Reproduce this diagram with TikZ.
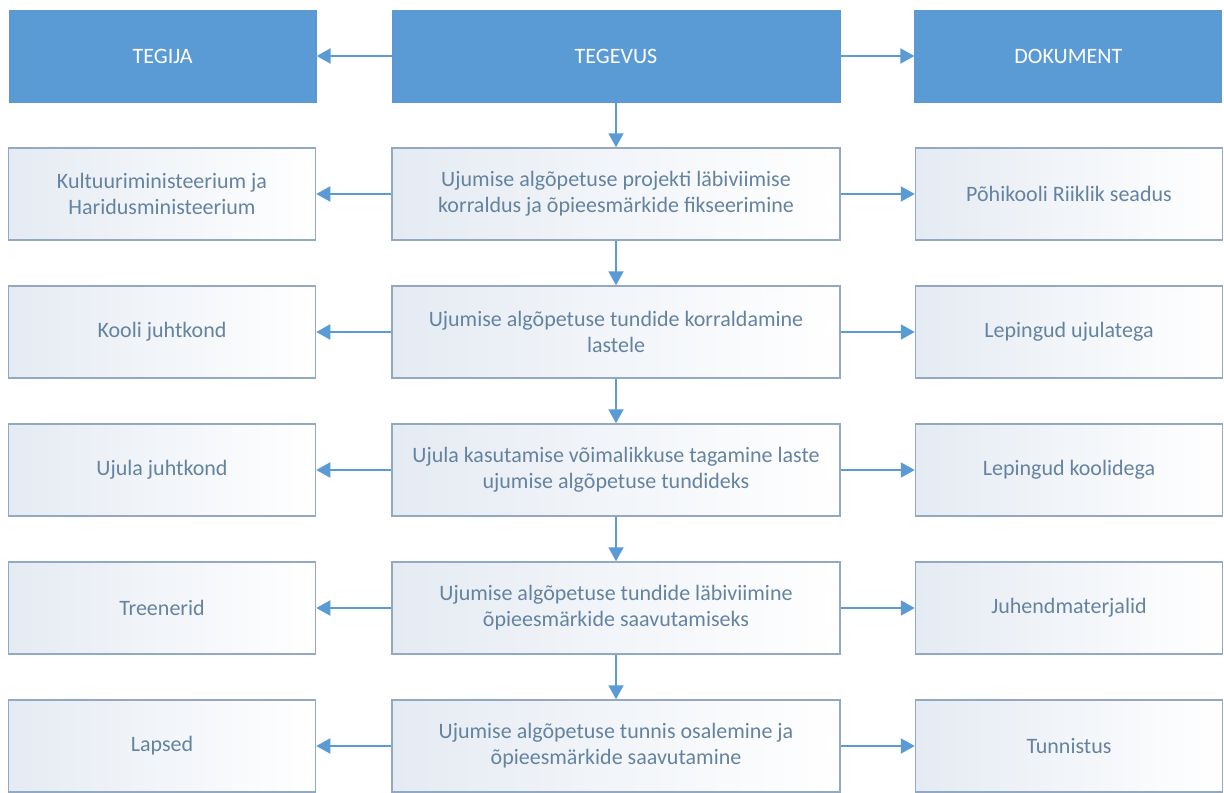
\documentclass[tikz,border=0pt]{standalone}
\usepackage{fontspec}
\setmainfont{Carlito}
\usepackage{tikz}
\usetikzlibrary{positioning}
\usetikzlibrary{arrows.meta}
\definecolor{headblue}{HTML}{5B9BD5}
\definecolor{boxline}{HTML}{93A9C1}
\definecolor{boxtext}{HTML}{6483A1}
\definecolor{boxshade}{HTML}{E5EBF3}
\tikzset{x=0.5pt, y=-0.5pt,
head/.style={ % Blue header boxes
fill=headblue,
draw=headblue!85!gray,
text=white,
minimum height=46pt,
font=\fontsize{11}{13}\selectfont},
box/.style={ % Light boxes with a soft shade
draw=boxline,
line width=0.75pt,
left color=boxshade, right color=white,
text=boxtext,
align=center,
minimum height=46pt,
font=\fontsize{11}{13}\selectfont},
wide/.style={minimum width=224pt}, % Middle column
narrow/.style={minimum width=153.5pt}, % Side columns
every edge/.style={ % Arrows between boxes
draw=headblue,
line width=1pt,
-{Triangle[length=7pt,width=7.5pt]}}}

\begin{document}
\begin{tikzpicture}
\useasboundingbox (0,0) rectangle (1224,792);
\clip (0,0) rectangle (1224,792);
% headers
\node[head, wide] (tegevus) at (616,56) {TEGEVUS};
\node[head, narrow, left=37.5pt of tegevus] (tegija) {TEGIJA};
\node[head, narrow, right=37pt of tegevus] (dokument) {DOKUMENT};
% rows
\node[box, wide] (tg1) at (616,194) {Ujumise algõpetuse projekti läbiviimise\\korraldus ja õpieesmärkide fikseerimine};
\node[box, narrow, left=37.5pt of tg1] (kes1) {Kultuuriministeerium ja\\Haridusministeerium};
\node[box, narrow, right=37pt of tg1] (dok1) {Põhikooli Riiklik seadus};

\node[box, wide] (tg2) at (616,332) {Ujumise algõpetuse tundide korraldamine\\lastele};
\node[box, narrow, left=37.5pt of tg2] (kes2) {Kooli juhtkond};
\node[box, narrow, right=37pt of tg2] (dok2) {Lepingud ujulatega};

\node[box, wide] (tg3) at (616,470) {Ujula kasutamise võimalikkuse tagamine laste\\ujumise algõpetuse tundideks};
\node[box, narrow, left=37.5pt of tg3] (kes3) {Ujula juhtkond};
\node[box, narrow, right=37pt of tg3] (dok3) {Lepingud koolidega};

\node[box, wide] (tg4) at (616,608) {Ujumise algõpetuse tundide läbiviimine\\õpieesmärkide saavutamiseks};
\node[box, narrow, left=37.5pt of tg4] (kes4) {Treenerid};
\node[box, narrow, right=37pt of tg4] (dok4) {Juhendmaterjalid};

\node[box, wide] (tg5) at (616,746) {Ujumise algõpetuse tunnis osalemine ja\\õpieesmärkide saavutamine};
\node[box, narrow, left=37.5pt of tg5] (kes5) {Lapsed};
\node[box, narrow, right=37pt of tg5] (dok5) {Tunnistus};
% arrows
\draw (tegevus) edge (tegija) (tegevus) edge (dokument) (tegevus) edge (tg1);
\draw (tg1) edge (kes1) (tg1) edge (dok1) (tg1) edge (tg2);
\draw (tg2) edge (kes2) (tg2) edge (dok2) (tg2) edge (tg3);
\draw (tg3) edge (kes3) (tg3) edge (dok3) (tg3) edge (tg4);
\draw (tg4) edge (kes4) (tg4) edge (dok4) (tg4) edge (tg5);
\draw (tg5) edge (kes5) (tg5) edge (dok5);
\end{tikzpicture}
\end{document}
